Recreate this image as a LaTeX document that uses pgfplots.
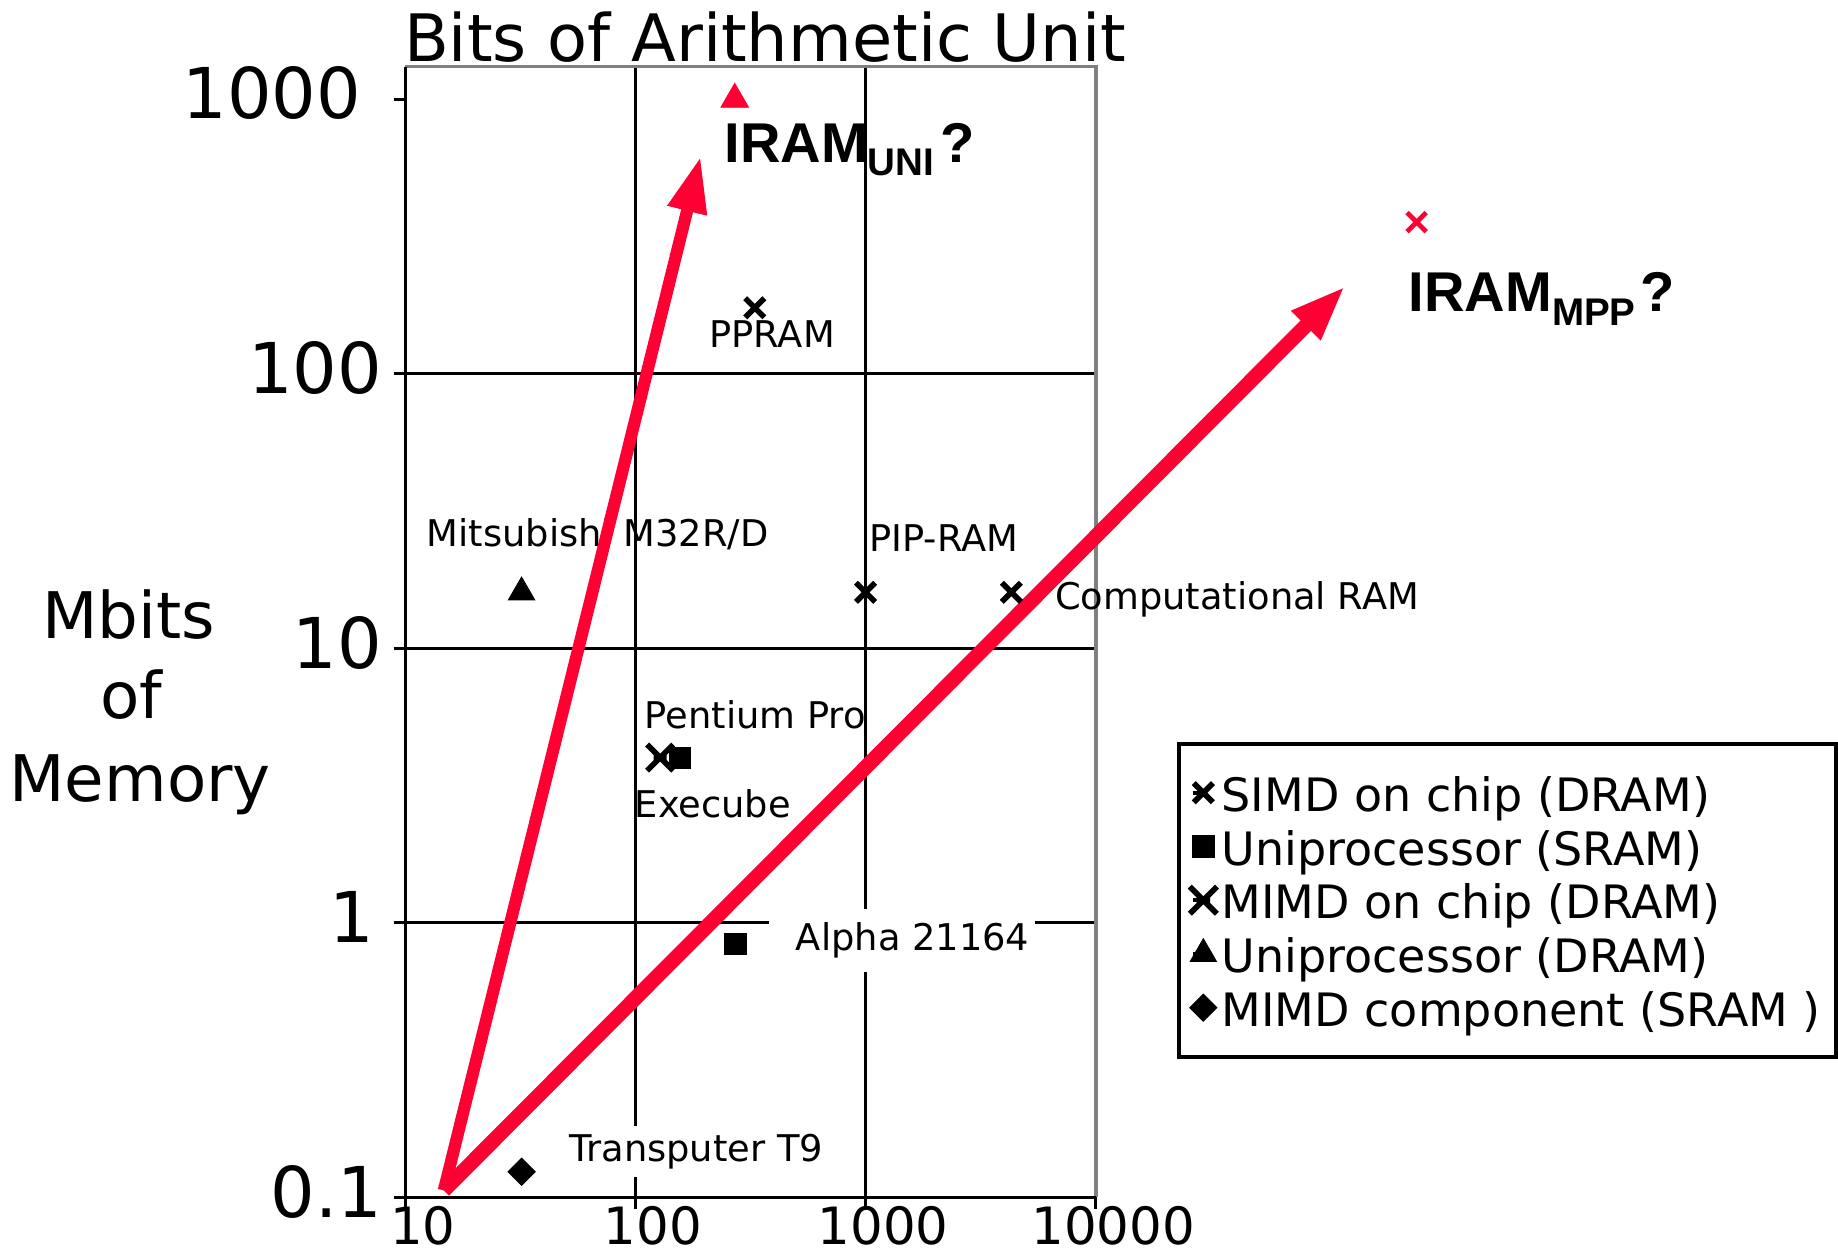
\documentclass[border=0pt]{standalone}
\usepackage{fontspec}
\setmainfont{DejaVu Sans}
\newfontfamily\arialfont{Liberation Sans}
\usepackage{pgfplots}
\pgfplotsset{compat=1.18}
\usetikzlibrary{arrows.meta}
\definecolor{iramred}{RGB}{255,0,51}
\definecolor{bordergray}{RGB}{128,128,128}
\pgfdeclareplotmark{mimdx}{%
  \pgfpathmoveto{\pgfqpoint{-\pgfplotmarksize}{-\pgfplotmarksize}}%
  \pgfpathlineto{\pgfqpoint{\pgfplotmarksize}{\pgfplotmarksize}}%
  \pgfpathmoveto{\pgfqpoint{-\pgfplotmarksize}{\pgfplotmarksize}}%
  \pgfpathlineto{\pgfqpoint{\pgfplotmarksize}{-\pgfplotmarksize}}%
  \pgfpathmoveto{\pgfqpoint{-0.5\pgfplotmarksize}{0pt}}%
  \pgfpathlineto{\pgfqpoint{0.5\pgfplotmarksize}{0pt}}%
  \pgfusepathqstroke}
\pgfplotsset{pointlegend/.style={legend image code/.code={\path (-4.6pt,0pt) -- (0pt,0pt); \draw[##1] plot coordinates {(0pt,0pt)};}}}
\newcommand{\lbl}{\fontsize{15.75}{18}\selectfont}
\begin{document}
\begin{tikzpicture}
\begin{axis}[
  scale only axis, width=295.5pt, height=484pt,
  xmode=log, ymode=log,
  xmin=10, xmax=10000, ymin=0.1, ymax=1316,
  clip=false,
  axis line style={draw=none},
  xtick={10,100,1000,10000}, xticklabels={10,100,1000,10000},
  ytick={0.1,1,10,100,1000},
  yticklabels={0.1,{1\hspace*{3.5pt}},10,100,{1000\hspace*{9pt}}},
  minor tick num=0, minor tick length=0pt, minor tick style={draw=none},
  tick pos=left, tick align=outside, major tick length=5pt,
  tick style={black, line width=1.2pt},
  xticklabel style={font=\fontsize{22}{22}\selectfont, inner sep=0pt, xshift=7.5pt, yshift=1.2pt},
  yticklabel style={font=\fontsize{30}{30}\selectfont, yshift=2.5pt, xshift=-1.5pt},
  extra x ticks={100,1000}, extra x tick labels={},
  extra y ticks={1,10,100}, extra y tick labels={},
  extra x tick style={grid=major, major grid style={black, line width=1.2pt}},
  extra y tick style={grid=major, major grid style={black, line width=1.2pt}},
  legend style={at={(1.1180,0.4029)}, anchor=north west, draw=black, line width=1.6pt,
    font=\fontsize{19.7}{23}\selectfont, inner xsep=4.6pt, inner ysep=11pt, row sep=3pt,
    cells={anchor=west}, nodes={text height=16pt, text depth=0pt, inner sep=2pt}},
]
% invisible frame fixing the picture size
\path (rel axis cs:-0.5871,-0.0535) rectangle (rel axis cs:2.0660,1.0589);

% axis frame
\draw[bordergray, line width=1.6pt] (rel axis cs:0,1) -- (rel axis cs:1,1) -- (rel axis cs:1,0);
\draw[black, line width=1.3pt] (rel axis cs:0,1) -- (rel axis cs:0,0) -- (rel axis cs:1,0);

% labels
\node[anchor=base, inner sep=0pt, font=\fontsize{28}{28}\selectfont] at (rel axis cs:0.5212,1.0045) {Bits of Arithmetic Unit};
\node[anchor=base, inner sep=0pt, font=\fontsize{27.5}{27.5}\selectfont] at (rel axis cs:-0.4010,0.4938) {Mbits};
\node[anchor=base, inner sep=0pt, font=\fontsize{27.5}{27.5}\selectfont] at (rel axis cs:-0.3968,0.4236) {of};
\node[anchor=base, inner sep=0pt, font=\fontsize{27.5}{27.5}\selectfont] at (rel axis cs:-0.3841,0.3502) {Memory};

\node[anchor=base west, inner sep=0pt, font=\lbl] at (axis cs:12.34,23.57) {Mitsubishi M32R/D};
\node[anchor=base west, inner sep=0pt, font=\lbl] at (axis cs:1033,22.55) {PIP-RAM};
\node[anchor=base west, inner sep=0pt, font=\lbl] at (axis cs:6637,13.84) {Computational RAM};
\node[anchor=base west, inner sep=0pt, font=\lbl] at (axis cs:208.8,124.4) {PPRAM};
\node[anchor=base west, inner sep=0pt, font=\lbl] at (axis cs:109.4,5.122) {Pentium Pro};
\node[anchor=base west, inner sep=0pt, font=\lbl] at (axis cs:98.9,2.427) {Execube};
\node[anchor=base west, fill=white, inner xsep=2.5pt, inner ysep=5.75pt, font=\lbl] at (axis cs:379,0.791) {\hspace*{9pt}Alpha 21164};
\node[anchor=base west, fill=white, inner xsep=3pt, inner ysep=3.5pt, font=\lbl] at (axis cs:47.87,0.1356) {Transputer T9};

\node[anchor=base west, inner sep=0pt, font={\arialfont\bfseries\fontsize{24}{24}\selectfont}] at (axis cs:243,589) {IRAM\raisebox{-5.7pt}{\fontsize{16.5}{16.5}\selectfont UNI}\hspace{2.5pt}?};
\node[anchor=base west, inner sep=0pt, font={\arialfont\bfseries\fontsize{24}{24}\selectfont}] at (axis cs:228200,168.1) {IRAM\raisebox{-5.7pt}{\fontsize{16.5}{16.5}\selectfont MPP}\hspace{2pt}?};

% arrows
\addplot[iramred, line width=5.2pt, -{Triangle[length=24pt,width=16pt]}, forget plot] coordinates {(14.7,0.106) (192,620)};
\addplot[iramred, line width=6.3pt, -{Triangle[length=24pt,width=16pt]}, forget plot] coordinates {(14.7,0.106) (121600,209)};

% data
\addplot[only marks, mark=mimdx, mark size=5.6pt, mark options={black, line width=2.4pt}, forget plot] coordinates {(128,4)};
\addplot[only marks, mark=x, mark size=5.8pt, mark options={black, line width=2.4pt}, forget plot] coordinates {(1000,16) (4300,16) (330,174)};
\addplot[only marks, mark=square*, mark size=4.5pt, mark options={black, fill=black}, forget plot] coordinates {(156,4) (272,0.84)};
\addplot[only marks, mark=triangle*, mark size=6.5pt, mark options={black, fill=black}, forget plot] coordinates {(32,16)};
\addplot[only marks, mark=square*, mark size=4.1pt, mark options={black, fill=black, rotate=45}, forget plot] coordinates {(32,0.124)};
\addplot[only marks, mark=triangle*, mark size=6.8pt, mark options={iramred, fill=iramred}, forget plot] coordinates {(270,1000)};
\addplot[only marks, mark=x, mark size=5.8pt, mark options={iramred, line width=2pt}, forget plot] coordinates {(248000,357)};

% legend
\addlegendimage{only marks, mark=x, mark size=5.8pt, mark options={black, line width=2.4pt}, pointlegend}
\addlegendentry{SIMD on chip (DRAM)}
\addlegendimage{only marks, mark=square*, mark size=4.8pt, mark options={black, fill=black, line width=0.4pt}, pointlegend}
\addlegendentry{Uniprocessor (SRAM)}
\addlegendimage{only marks, mark=mimdx, mark size=5.8pt, mark options={black, line width=2.4pt}, pointlegend}
\addlegendentry{MIMD on chip (DRAM)}
\addlegendimage{only marks, mark=triangle*, mark size=6.5pt, mark options={black, fill=black, line width=0.4pt}, pointlegend}
\addlegendentry{Uniprocessor (DRAM)}
\addlegendimage{only marks, mark=square*, mark size=4.1pt, mark options={black, fill=black, rotate=45, line width=0.4pt}, pointlegend}
\addlegendentry{MIMD component (SRAM )}
\end{axis}
\end{tikzpicture}
\end{document}
